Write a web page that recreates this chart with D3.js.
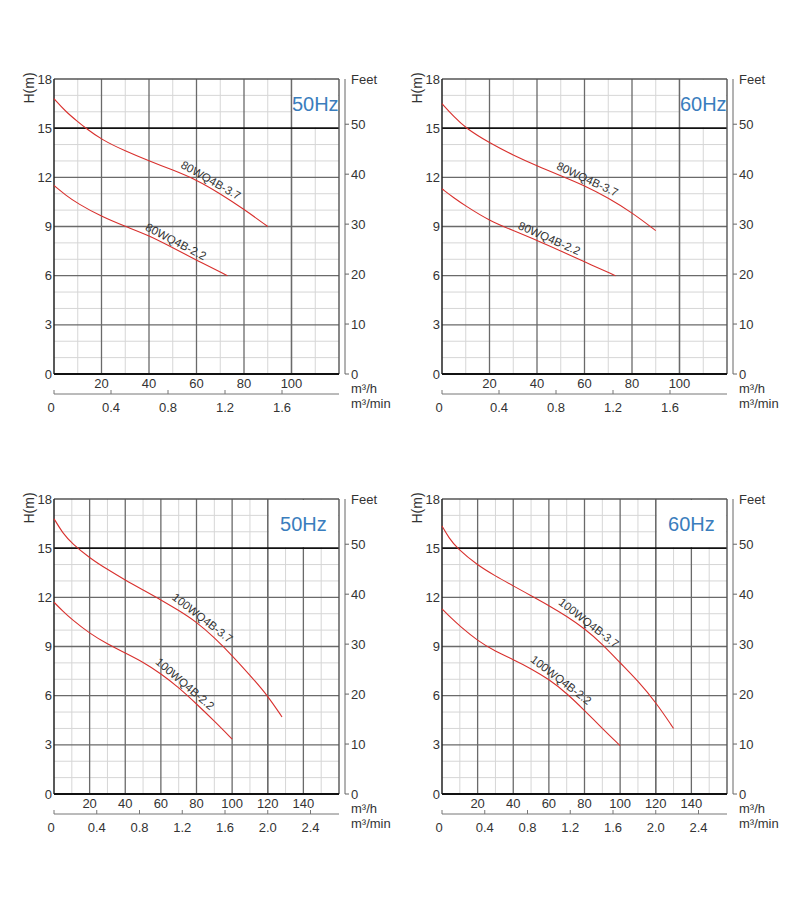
<!DOCTYPE html>
<html><head><meta charset="utf-8">
<script src="https://cdn.jsdelivr.net/npm/d3@7"></script>
<style>body{margin:0;background:#fff;} text{font-family:"Liberation Sans",Arial,sans-serif;}</style>
</head><body><svg id="c" width="800" height="900"></svg>
<script>
// ---------- data ----------
const headTicks = [0, 3, 6, 9, 12, 15, 18];
const feetTicks = [0, 10, 20, 30, 40, 50];
const flowTicksTop = [20, 40, 60, 80, 100];
const flowTicksBottom = [20, 40, 60, 80, 100, 120, 140];
const minTicksTop = [0, 0.4, 0.8, 1.2, 1.6];
const minTicksBottom = [0, 0.4, 0.8, 1.2, 1.6, 2.0, 2.4];

// 80WQ4B 50Hz
const q80_37_50 = [0, 5, 10, 13.4, 20, 30, 40, 50, 60, 70, 80, 90];
const h80_37_50 = [16.8, 16.0, 15.4, 15.0, 14.3, 13.6, 13.0, 12.45, 11.85, 11.0, 10.05, 9.0];
const q80_22_50 = [0, 5, 10, 20, 30, 40, 50, 60, 73];
const h80_22_50 = [11.5, 10.9, 10.4, 9.6, 9.0, 8.45, 7.7, 6.95, 6.0];
// 80WQ4B 60Hz
const q80_37_60 = [0, 5, 10, 20, 30, 40, 50, 60, 70, 80, 90];
const h80_37_60 = [16.5, 15.7, 15.0, 14.1, 13.35, 12.7, 12.1, 11.5, 10.75, 9.85, 8.75];
const q80_22_60 = [0, 5, 10, 20, 30, 40, 50, 60, 73];
const h80_22_60 = [11.3, 10.75, 10.25, 9.35, 8.75, 8.15, 7.5, 6.85, 6.0];
// 100WQ4B 50Hz
const q100_37_50 = [0, 5, 10, 20, 30, 40, 50, 60, 70, 80, 90, 100, 110, 120, 128];
const h100_37_50 = [16.8, 15.9, 15.3, 14.4, 13.7, 13.05, 12.45, 11.85, 11.2, 10.5, 9.55, 8.45, 7.25, 6.0, 4.7];
const q100_22_50 = [0, 5, 10, 20, 30, 40, 50, 60, 70, 80, 90, 100];
const h100_22_50 = [11.7, 11.15, 10.65, 9.8, 9.15, 8.6, 8.05, 7.35, 6.5, 5.5, 4.45, 3.35];
// 100WQ4B 60Hz
const q100_37_60 = [0, 4, 8.4, 20, 30, 40, 50, 60, 70, 80, 90, 100, 110, 120, 130];
const h100_37_60 = [16.35, 15.6, 15.0, 13.95, 13.3, 12.7, 12.1, 11.5, 10.85, 10.1, 9.15, 8.0, 6.9, 5.6, 4.0];
const q100_22_60 = [0, 5, 10, 20, 30, 40, 50, 60, 70, 80, 90, 100];
const h100_22_60 = [11.3, 10.75, 10.25, 9.35, 8.7, 8.2, 7.65, 7.0, 6.15, 5.1, 4.0, 2.95];

const seriesNames = ["80WQ4B-3.7", "80WQ4B-2.2", "100WQ4B-3.7", "100WQ4B-2.2"];

// ---------- layout ----------
const panels = [
  {left: 54, top: 79, qMax: 120, boxFrom: 100, hz: "50Hz", qTicks: flowTicksTop, mTicks: minTicksTop,
   series: [{q: q80_37_50, h: h80_37_50, name: seriesNames[0], lx: 64.6},
            {q: q80_22_50, h: h80_22_50, name: seriesNames[1], lx: 50}]},
  {left: 442, top: 79, qMax: 120, boxFrom: 100, hz: "60Hz", qTicks: flowTicksTop, mTicks: minTicksTop,
   series: [{q: q80_37_60, h: h80_37_60, name: seriesNames[0], lx: 60},
            {q: q80_22_60, h: h80_22_60, name: seriesNames[1], lx: 44}]},
  {left: 54, top: 499, qMax: 160, boxFrom: 120, hz: "50Hz", qTicks: flowTicksBottom, mTicks: minTicksBottom,
   series: [{q: q100_37_50, h: h100_37_50, name: seriesNames[2], lx: 81},
            {q: q100_22_50, h: h100_22_50, name: seriesNames[3], lx: 71}]},
  {left: 442, top: 499, qMax: 160, boxFrom: 120, hz: "60Hz", qTicks: flowTicksBottom, mTicks: minTicksBottom,
   series: [{q: q100_37_60, h: h100_37_60, name: seriesNames[2], lx: 80},
            {q: q100_22_60, h: h100_22_60, name: seriesNames[3], lx: 64.5}]}
];

const svg = d3.select("#c");
const W = 285, H = 295;
const txt = "#333";
const fs = 13;

function interp(q, h, v) {
  for (let i = 0; i < q.length - 1; i++) {
    if (v >= q[i] && v <= q[i + 1]) {
      const t = (v - q[i]) / (q[i + 1] - q[i]);
      return h[i] + t * (h[i + 1] - h[i]);
    }
  }
  return h[h.length - 1];
}

function drawPanel(p) {
  const g = svg.append("g").attr("transform", `translate(${p.left},${p.top})`);
  const x = d3.scaleLinear().domain([0, p.qMax]).range([0, W]);
  const y = d3.scaleLinear().domain([0, 18]).range([H, 0]);
  const yf = d3.scaleLinear().domain([0, 18 / 0.3048]).range([H, 0]);

  // minor grid
  const minorV = d3.range(10, p.qMax, 10).filter(v => v % 20 !== 0);
  const minorH = d3.range(1, 18).filter(v => v % 3 !== 0);
  g.selectAll(".mv").data(minorV).join("line")
    .attr("x1", d => x(d)).attr("x2", d => x(d)).attr("y1", 0).attr("y2", H)
    .attr("stroke", "#d6d6d6").attr("stroke-width", 1);
  g.selectAll(".mh").data(minorH).join("line")
    .attr("x1", 0).attr("x2", W).attr("y1", d => y(d)).attr("y2", d => y(d))
    .attr("stroke", "#d6d6d6").attr("stroke-width", 1);
  // major grid
  const majorV = d3.range(20, p.qMax, 20);
  g.selectAll(".Mv").data(majorV).join("line")
    .attr("x1", d => x(d)).attr("x2", d => x(d)).attr("y1", 0).attr("y2", H)
    .attr("stroke", "#6a6a6a").attr("stroke-width", 1.3);
  g.selectAll(".Mh").data(headTicks.filter(v => v > 0 && v < 15)).join("line")
    .attr("x1", 0).attr("x2", W).attr("y1", d => y(d)).attr("y2", d => y(d))
    .attr("stroke", "#6a6a6a").attr("stroke-width", 1.3);

  // white box for frequency label
  g.append("rect").attr("x", x(p.boxFrom) + 1).attr("y", y(18) + 1)
    .attr("width", x(p.qMax) - x(p.boxFrom) - 2).attr("height", y(15) - y(18) - 2)
    .attr("fill", "#fff");
  g.append("line").attr("x1", x(p.boxFrom)).attr("x2", x(p.boxFrom)).attr("y1", 0).attr("y2", H)
    .attr("stroke", "#6a6a6a").attr("stroke-width", 1.3);

  // 15 m line
  g.append("line").attr("x1", 0).attr("x2", W).attr("y1", y(15)).attr("y2", y(15))
    .attr("stroke", "#111").attr("stroke-width", 1.6);
  // borders
  g.append("line").attr("x1", 0).attr("x2", W).attr("y1", 0).attr("y2", 0).attr("stroke", "#555").attr("stroke-width", 1.4);
  g.append("line").attr("x1", W).attr("x2", W).attr("y1", 0).attr("y2", H).attr("stroke", "#555").attr("stroke-width", 1.4);
  g.append("line").attr("x1", 0).attr("x2", 0).attr("y1", 0).attr("y2", H).attr("stroke", "#222").attr("stroke-width", 1.5);
  g.append("line").attr("x1", 0).attr("x2", W).attr("y1", H).attr("y2", H).attr("stroke", "#111").attr("stroke-width", 2);

  // Hz label
  g.append("text").attr("x", (x(p.boxFrom) + x(p.qMax)) / 2).attr("y", y(15) - 17)
    .attr("text-anchor", "middle").attr("font-size", 20).attr("fill", "#3a7dbd").text(p.hz);

  // curves
  const line = d3.line().x(d => x(d[0])).y(d => y(d[1])).curve(d3.curveBasis);
  p.series.forEach(s => {
    const pts = s.q.map((q, i) => [q, s.h[i]]);
    g.append("path").attr("d", line(pts)).attr("fill", "none")
      .attr("stroke", "#d8302d").attr("stroke-width", 1.1);
    const hx = interp(s.q, s.h, s.lx);
    const ha = interp(s.q, s.h, s.lx - 6), hb = interp(s.q, s.h, s.lx + 6);
    const ang = Math.atan2(y(hb) - y(ha), x(s.lx + 6) - x(s.lx - 6)) * 180 / Math.PI;
    g.append("text").attr("transform", `translate(${x(s.lx)},${y(hx)}) rotate(${ang})`)
      .attr("y", -3).attr("text-anchor", "middle").attr("font-size", 11.5).attr("fill", "#333")
      .text(s.name);
  });

  // left axis labels
  g.selectAll(".yl").data(headTicks).join("text")
    .attr("x", -2).attr("y", d => y(d) + 4.5).attr("text-anchor", "end")
    .attr("font-size", fs).attr("fill", txt).text(d => d);
  g.append("text").attr("transform", "translate(-25,9) rotate(-90)")
    .attr("text-anchor", "middle").attr("dy", "0.35em").attr("font-size", 14).attr("fill", txt).text("H(m)");

  // right axis (feet)
  const rx = W + 6;
  g.append("line").attr("x1", rx).attr("x2", rx).attr("y1", 0).attr("y2", H).attr("stroke", "#666").attr("stroke-width", 1);
  g.selectAll(".ft").data(feetTicks).join("line")
    .attr("x1", rx).attr("x2", rx + 4).attr("y1", d => yf(d)).attr("y2", d => yf(d))
    .attr("stroke", "#666").attr("stroke-width", 1);
  g.selectAll(".fl").data(feetTicks).join("text")
    .attr("x", rx + 6).attr("y", d => yf(d) + 4.5).attr("font-size", fs).attr("fill", txt).text(d => d);
  g.append("text").attr("x", rx + 6).attr("y", 5).attr("font-size", fs).attr("fill", txt).text("Feet");

  // bottom flow labels (m³/h)
  g.selectAll(".xl").data(p.qTicks).join("text")
    .attr("x", d => x(d)).attr("y", H + 14).attr("text-anchor", "middle")
    .attr("font-size", fs).attr("fill", txt).text(d => d);
  g.append("text").attr("x", rx + 6).attr("y", H + 19).attr("font-size", fs).attr("fill", txt).text("m³/h");

  // m³/min axis
  const ay = H + 20;
  g.append("line").attr("x1", 0).attr("x2", W).attr("y1", ay).attr("y2", ay).attr("stroke", "#777").attr("stroke-width", 1);
  g.selectAll(".mt").data(p.mTicks).join("line")
    .attr("x1", d => x(d * 60)).attr("x2", d => x(d * 60)).attr("y1", ay).attr("y2", ay - 4)
    .attr("stroke", "#777").attr("stroke-width", 1);
  g.selectAll(".ml").data(p.mTicks).join("text")
    .attr("x", d => x(d * 60) - (d === 0 ? 3 : 0)).attr("y", H + 38).attr("text-anchor", "middle")
    .attr("font-size", fs).attr("fill", txt).text(d => d === 0 ? "0" : d.toFixed(1));
  g.append("text").attr("x", rx + 6).attr("y", H + 34).attr("font-size", fs).attr("fill", txt).text("m³/min");
}

panels.forEach(drawPanel);
</script></body></html>
